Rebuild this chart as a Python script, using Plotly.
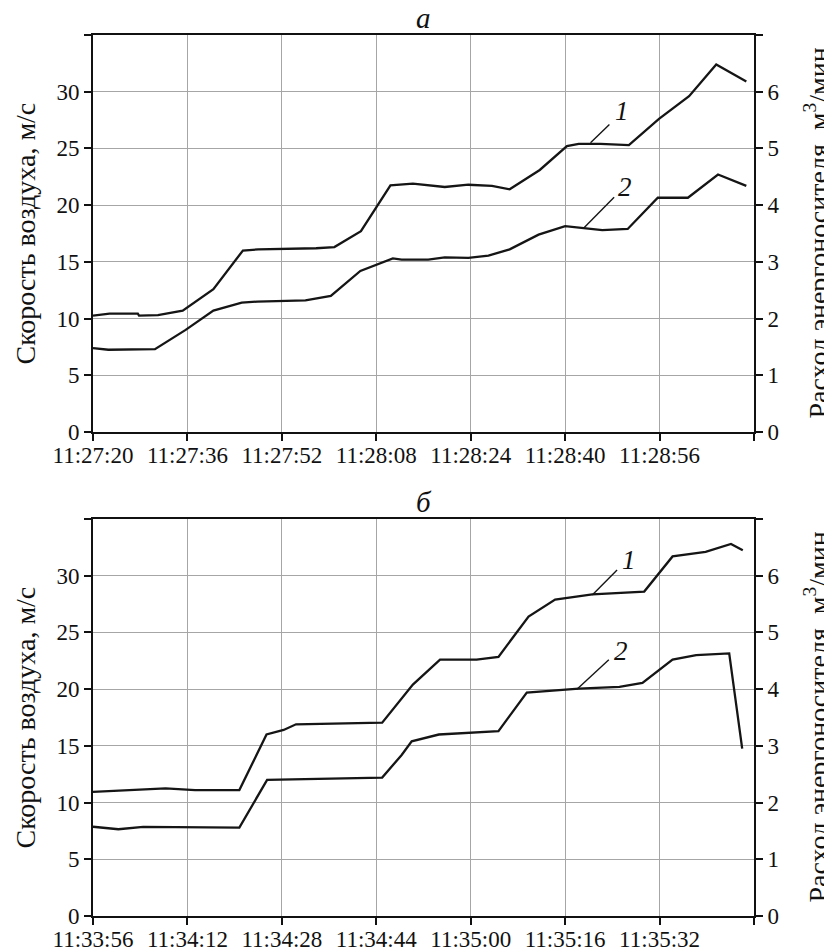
import plotly.graph_objects as go

# ---------------- data ----------------
# elapsed seconds from the first tick of each panel
tick_labels_a = ["11:27:20", "11:27:36", "11:27:52", "11:28:08", "11:28:24", "11:28:40", "11:28:56", " "]
tick_labels_b = ["11:33:56", "11:34:12", "11:34:28", "11:34:44", "11:35:00", "11:35:16", "11:35:32", " "]
tick_step_s = 16

# panel a, curve 1 : air speed, m/s
t_a1 = [0, 2.8, 7.6, 7.8, 11.0, 15.2, 20.4, 25.4, 28.0, 37.8, 40.9, 45.4, 50.4, 54.2, 59.6, 63.6, 67.6, 70.6,
        75.7, 80.3, 82.3, 86.0, 90.8, 95.9, 101.0, 105.6, 110.7]
v_a1 = [10.26, 10.43, 10.43, 10.26, 10.3, 10.7, 12.6, 16.0, 16.1, 16.2, 16.3, 17.7, 21.75, 21.9, 21.6, 21.8, 21.7, 21.4,
        23.1, 25.2, 25.4, 25.4, 25.3, 27.6, 29.6, 32.4, 30.9]

# panel a, curve 2 : energy carrier flow, m3/min
t_a2 = [0, 2.6, 10.5, 15.7, 20.4, 25.2, 27.8, 36.0, 40.3, 41.2, 45.3, 50.8, 52.3, 56.8, 59.6, 63.6, 67.0, 70.6,
        75.5, 80.0, 83.2, 86.3, 90.6, 95.7, 100.8, 105.9, 110.7]
v_a2 = [1.48, 1.45, 1.46, 1.80, 2.14, 2.28, 2.30, 2.32, 2.40, 2.48, 2.84, 3.06, 3.04, 3.04, 3.08, 3.07, 3.11, 3.22,
        3.48, 3.63, 3.60, 3.56, 3.58, 4.13, 4.13, 4.54, 4.34]

# panel b, curve 1 : air speed, m/s
t_b1 = [0, 7.4, 12.3, 17.3, 24.8, 29.4, 32.3, 34.4, 41.5, 49.0, 54.2, 58.8, 65.0, 68.7, 73.8, 78.3, 84.6, 89.0,
        93.4, 98.2, 103.8, 108.1, 110.1]
v_b1 = [10.95, 11.1, 11.25, 11.1, 11.1, 16.0, 16.4, 16.9, 16.95, 17.05, 20.4, 22.6, 22.6, 22.85, 26.4, 27.9, 28.35, 28.5,
        28.6, 31.7, 32.1, 32.8, 32.25]

# panel b, curve 2 : energy carrier flow, m3/min
t_b2 = [0, 4.3, 8.5, 24.8, 29.5, 41.5, 49.0, 52.3, 54.0, 58.6, 63.8, 68.7, 73.5, 79.4, 82.3, 89.2, 93.1, 98.2,
        102.2, 107.8, 110.0]
v_b2 = [1.574, 1.53, 1.57, 1.56, 2.40, 2.42, 2.44, 2.84, 3.08, 3.20, 3.23, 3.26, 3.94, 3.99, 4.01, 4.04, 4.11, 4.52,
        4.60, 4.63, 2.95]

left_ticks = [0, 5, 10, 15, 20, 25, 30, 35]
left_labels = ["0", "5", "10", "15", "20", "25", "30", " "]
right_ticks = [0, 1, 2, 3, 4, 5, 6, 7]
right_labels = ["0", "1", "2", "3", "4", "5", "6", " "]

# curve-number labels (data units: seconds, m/s) and leader lines
lab_a = {"1": (89.7, 28.3), "2": (90.2, 21.6)}
lead_a = {"1": (84.3, 25.5, 87.5, 27.1), "2": (83.2, 18.0, 88.3, 20.7)}
lab_b = {"1": (90.8, 31.4), "2": (89.4, 23.4)}
lead_b = {"1": (84.6, 28.3, 88.8, 30.5), "2": (82.0, 20.0, 87.4, 22.6)}

# ---------------- figure ----------------
OFF = 8                                  # page body margin of the html page
W, H = 832 - OFF, 951 - OFF
L, R, T, B = 93 - OFF, 754 - OFF, 35 - OFF, 916 - OFF   # outer plot box in figure pixels
FONT = "Liberation Serif"
LINE = "#151515"
GRID = "#a6a6a6"
PH = B - T
PW = R - L

fig = go.Figure()
line_style = dict(color=LINE, width=2.3)
fig.add_trace(go.Scatter(x=t_a1, y=v_a1, mode="lines", line=line_style, xaxis="x", yaxis="y", showlegend=False))
fig.add_trace(go.Scatter(x=t_a2, y=v_a2, mode="lines", line=line_style, xaxis="x", yaxis="y2", showlegend=False))
fig.add_trace(go.Scatter(x=t_b1, y=v_b1, mode="lines", line=line_style, xaxis="x2", yaxis="y3", showlegend=False))
fig.add_trace(go.Scatter(x=t_b2, y=v_b2, mode="lines", line=line_style, xaxis="x2", yaxis="y4", showlegend=False))

dom_a = [(B - (432 - OFF)) / PH, 1.0]
dom_b = [0.0, (B - (519 - OFF)) / PH]
xticks = [i * tick_step_s for i in range(8)]

tickfont = dict(family=FONT, size=23, color="#111")
common_x = dict(range=[0, 7 * tick_step_s], tickvals=xticks, showgrid=True, gridcolor=GRID, gridwidth=1.3,
                showline=True, linecolor="#111", linewidth=2, mirror=True, ticks="outside", ticklen=7,
                tickwidth=1.6, tickcolor="#111", tickfont=tickfont, zeroline=False, domain=[0, 1],
                automargin=False, ticklabelstandoff=-6)
common_yl = dict(range=[0, 35], tickvals=left_ticks, ticktext=left_labels, showgrid=True, gridcolor=GRID,
                 gridwidth=1.3, showline=True, linecolor="#111", linewidth=2, ticks="outside", ticklen=7,
                 tickwidth=1.6, tickcolor="#111", tickfont=tickfont, zeroline=False, side="left",
                 automargin=False)
common_yr = dict(range=[0, 7], tickvals=right_ticks, ticktext=right_labels, showgrid=False, showline=True,
                 linecolor="#111", linewidth=2, ticks="outside", ticklen=7, tickwidth=1.6, tickcolor="#111",
                 tickfont=tickfont, zeroline=False, side="right", automargin=False)

fig.update_layout(
    width=W, height=H, margin=dict(l=L, r=W - R, t=T, b=H - B, autoexpand=False),
    paper_bgcolor="white", plot_bgcolor="white",
    xaxis=dict(**common_x, ticktext=tick_labels_a, anchor="y"),
    yaxis=dict(**common_yl, domain=dom_a, anchor="x"),
    yaxis2=dict(**common_yr, domain=dom_a, anchor="x", overlaying="y"),
    xaxis2=dict(**common_x, ticktext=tick_labels_b, anchor="y3"),
    yaxis3=dict(**common_yl, domain=dom_b, anchor="x2"),
    yaxis4=dict(**common_yr, domain=dom_b, anchor="x2", overlaying="y3"),
)


def px_x(p):
    return (p - OFF - L) / PW


ann = []
shapes = []
titlefont = dict(family=FONT, size=28, color="#111")
for dom, name in ((dom_a, "а"), (dom_b, "б")):
    mid = (dom[0] + dom[1]) / 2
    ann.append(dict(text="<i>" + name + "</i>", x=0.5, y=dom[1], xref="paper", yref="paper",
                    xanchor="center", yanchor="bottom", yshift=-1, showarrow=False,
                    font=dict(family=FONT, size=29, color="#111")))
    ann.append(dict(text="Скорость воздуха, м/с", x=px_x(25), y=mid, xref="paper", yref="paper",
                    xanchor="center", yanchor="middle", textangle=-90, showarrow=False, font=titlefont))
    ann.append(dict(text="Расход энергоносителя, м<sup>3</sup>/мин", x=px_x(817), y=mid, xref="paper",
                    yref="paper", xanchor="center", yanchor="middle", textangle=-90, showarrow=False,
                    font=titlefont))

for labs, leads, xr, yr in ((lab_a, lead_a, "x", "y"), (lab_b, lead_b, "x2", "y3")):
    for k, (lx, ly) in labs.items():
        ann.append(dict(text="<i>" + k + "</i>", x=lx, y=ly, xref=xr, yref=yr, showarrow=False,
                        font=dict(family=FONT, size=27, color="#111")))
    for k, (x0, y0, x1, y1) in leads.items():
        shapes.append(dict(type="line", x0=x0, y0=y0, x1=x1, y1=y1, xref=xr, yref=yr,
                           line=dict(color=LINE, width=1.4)))

fig.update_layout(annotations=ann, shapes=shapes)
fig.write_html("out.html")
